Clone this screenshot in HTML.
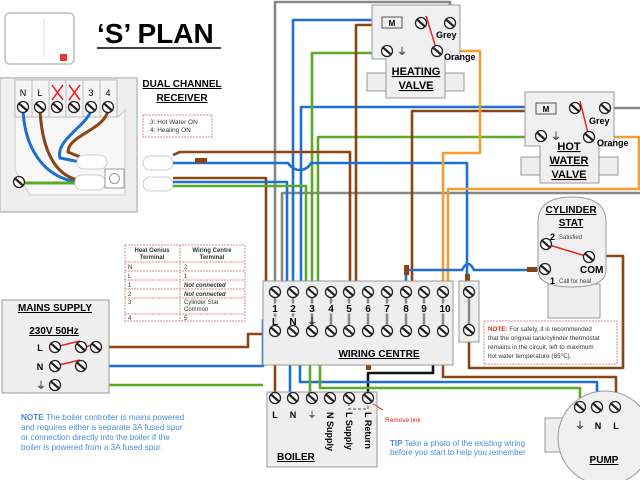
<!DOCTYPE html>
<html><head><meta charset="utf-8"><style>
body{margin:0;background:#fff}
svg{display:block}
text{font-family:"Liberation Sans",sans-serif}
.b{font-weight:bold}
</style></head><body>
<svg width="640" height="480" viewBox="0 0 640 480" xmlns="http://www.w3.org/2000/svg">
<defs>
<g id="sc"><circle r="5.5" fill="#fff" stroke="#222" stroke-width="1.3"/><line x1="-4" y1="-3.5" x2="4" y2="3.5" stroke="#222" stroke-width="2.2"/></g>
</defs>
<!-- thermostat -->
<rect x="5" y="13" width="69" height="51" rx="5" fill="#fff" stroke="#ccc" stroke-width="2"/>
<line x1="44" y1="18" x2="44" y2="58" stroke="#ddd"/>
<rect x="60" y="54" width="7" height="7" fill="#e33"/>
<!-- title -->
<text x="97" y="43" class="b" font-size="28">‘S’ PLAN</text>
<line x1="97" y1="48" x2="221" y2="48" stroke="#000" stroke-width="1.5"/>
<!-- receiver -->
<path d="M0 78 H137 V212 H0 Z" fill="#efefef" stroke="#ccc" stroke-width="2"/>
<path d="M15 117 H118 L125 110 V195 H30 L15 170 Z" fill="#f8f8f8" stroke="#ccc"/>
<g fill="#f4f4f4" stroke="#bbb">
<rect x="15" y="80" width="17" height="37"/><rect x="32" y="80" width="17" height="37"/><rect x="49" y="80" width="17" height="37"/><rect x="66" y="80" width="17" height="37"/><rect x="83" y="80" width="17" height="37"/><rect x="100" y="80" width="17" height="37"/>
</g>
<g font-size="9" text-anchor="middle"><text x="23" y="96">N</text><text x="40" y="96">L</text><text x="91" y="96">3</text><text x="108" y="96">4</text></g>
<g stroke="#e22" stroke-width="1.5"><line x1="52" y1="85" x2="63" y2="100"/><line x1="63" y1="85" x2="52" y2="100"/><line x1="69" y1="85" x2="80" y2="100"/><line x1="80" y1="85" x2="69" y2="100"/></g>
<g fill="none" stroke-width="3">
<path d="M23 110 C25 150 45 178 78 182" stroke="#1e6fd0"/>
<path d="M40 110 C42 150 55 175 78 180" stroke="#8b4513"/>
<path d="M25 183 H78" stroke="#5aaa28"/>
<path d="M91 110 C88 125 55 140 60 158 L80 162" stroke="#1e6fd0"/>
<path d="M108 110 C105 130 68 135 68 152 L80 157" stroke="#8b4513"/>
</g>
<rect x="77" y="155" width="30" height="14" rx="7" fill="#fff" stroke="#ccc"/>
<rect x="75" y="175" width="30" height="15" rx="7" fill="#fff" stroke="#ccc"/>
<rect x="105" y="169" width="19" height="19" fill="#fff" stroke="#999"/><circle cx="114.5" cy="178.5" r="5" fill="none" stroke="#999"/>
<g><use href="#sc" x="23" y="107"/><use href="#sc" x="40" y="107"/><use href="#sc" x="57" y="107"/><use href="#sc" x="74" y="107"/><use href="#sc" x="91" y="107"/><use href="#sc" x="108" y="107"/><use href="#sc" x="19" y="182"/></g>
<text x="182" y="87" class="b" font-size="10" text-anchor="middle" text-decoration="underline">DUAL CHANNEL</text>
<text x="182" y="101" class="b" font-size="10" text-anchor="middle" text-decoration="underline">RECEIVER</text>
<rect x="143" y="115" width="69" height="22" fill="none" stroke="#d88" stroke-dasharray="2,1"/>
<text x="150" y="124" font-size="6.5" fill="#333">3: Hot Water ON</text>
<text x="150" y="132" font-size="6.5" fill="#333">4: Healing ON</text>
<!-- cable ends -->
<rect x="143" y="156" width="30" height="14" rx="7" fill="#fff" stroke="#ccc"/>
<rect x="143" y="177" width="30" height="14" rx="7" fill="#fff" stroke="#ccc"/>

<!-- wires -->
<g fill="none" stroke-width="2.6" stroke-linejoin="round">
<path d="M275 292 V2 H450 V23" stroke="#888"/>
<path d="M605 108 H640" stroke="#888"/>
<path d="M282 285 V193 H640" stroke="#888"/>
<path d="M293 286 V20 H382" stroke="#1e6fd0"/>
<path d="M301 286 V107 H536" stroke="#1e6fd0"/>
<path d="M312 286 V53 H387" stroke="#5aaa28"/>
<path d="M318 286 V137 H541" stroke="#5aaa28"/>
<path d="M356 285 V25 H382" stroke="#8b4513"/>
<path d="M173 155 L180 152 H350 V287" stroke="#8b4513"/>
<path d="M412 285 V111 H536" stroke="#8b4513"/>
<path d="M173 163 H288 Q293 170 300 170 Q307 170 311 163 H467 V285" stroke="#1e6fd0"/>
<path d="M173 178 H266 V287" stroke="#8b4513"/>
<path d="M173 182 H287 V287" stroke="#1e6fd0"/>
<path d="M173 186 H306 V287" stroke="#5aaa28"/>
<path d="M437 51 H480 V153 H443 V287" stroke="#f0a030"/>
<path d="M589 137 H639 V189 H448 V287" stroke="#f0a030"/>
<path d="M406 287 V270 H462 Q468 258 474 270 H545" stroke="#1e6fd0"/>
<path d="M589 256 H623 V368 H469 V332" stroke="#8b4513"/>
<path d="M443 331 V377 H616 V408" stroke="#8b4513"/>
<path d="M443 331 L433 350 V373 H368 V398" stroke="#111"/>
<path d="M96 347 H248 V334 H275 V398" stroke="#8b4513"/>
<path d="M81 366 H263 V320 H285 L293 331" stroke="#1e6fd0"/>
<path d="M293 331 L300 345 V382 H597 V408" stroke="#1e6fd0"/>
<path d="M293 331 L290 345 V398" stroke="#1e6fd0"/>
<path d="M55 385 H263" stroke="#5aaa28"/>
<path d="M312 331 L320 345 V388 H580 V408" stroke="#5aaa28"/>
<path d="M312 331 L310 345 V398" stroke="#5aaa28"/>
</g>
<rect x="195" y="158" width="12" height="5" fill="#8b4513"/>
<rect x="404" y="265" width="5" height="10" fill="#8b4513"/>
<rect x="465" y="274" width="5" height="9" fill="#8b4513"/>
<rect x="527" y="267" width="10" height="5" fill="#8b4513"/>
<rect x="366" y="360" width="5" height="10" fill="#8b4513"/>
<rect x="431" y="350" width="5" height="10" fill="#8b4513"/>

<!-- heating valve -->
<path d="M372 5 H460 V59 H445 V98 H386 V59 H372 Z" fill="#f0f0f0" stroke="#999"/>
<rect x="367" y="73" width="19" height="18" fill="#eee" stroke="#999"/><rect x="445" y="73" width="19" height="18" fill="#eee" stroke="#999"/>
<rect x="382" y="17" width="20" height="11" fill="#eee" stroke="#555"/><text x="392" y="26" font-size="8" class="b" text-anchor="middle">M</text>
<line x1="426" y1="16" x2="437" y2="51" stroke="#e22" stroke-width="1.5"/>
<use href="#sc" x="421" y="23"/><use href="#sc" x="450" y="23"/><use href="#sc" x="437" y="51"/><use href="#sc" x="387" y="51"/>
<text x="397" y="55" font-size="10">⏚</text>
<text x="436" y="38" class="b" font-size="9">Grey</text>
<text x="444" y="60" class="b" font-size="9">Orange</text>
<text x="416" y="75" class="b" font-size="11" text-anchor="middle" text-decoration="underline">HEATING</text>
<text x="416" y="89" class="b" font-size="11" text-anchor="middle" text-decoration="underline">VALVE</text>
<!-- HW valve -->
<path d="M525 92 H614 V146 H599 V183 H540 V146 H525 Z" fill="#f0f0f0" stroke="#999"/>
<rect x="521" y="157" width="19" height="18" fill="#eee" stroke="#999"/><rect x="599" y="157" width="19" height="18" fill="#eee" stroke="#999"/>
<rect x="536" y="103" width="20" height="11" fill="#eee" stroke="#555"/><text x="546" y="112" font-size="8" class="b" text-anchor="middle">M</text>
<line x1="580" y1="101" x2="589" y2="137" stroke="#e22" stroke-width="1.5"/>
<use href="#sc" x="575" y="108"/><use href="#sc" x="605" y="108"/><use href="#sc" x="589" y="137"/><use href="#sc" x="541" y="136"/>
<text x="551" y="140" font-size="10">⏚</text>
<text x="589" y="124" class="b" font-size="9">Grey</text>
<text x="597" y="146" class="b" font-size="9">Orange</text>
<g class="b" font-size="11" text-anchor="middle" text-decoration="underline"><text x="569" y="150">HOT</text><text x="569" y="164">WATER</text><text x="569" y="178">VALVE</text></g>
<!-- cylinder stat -->
<rect x="548" y="284" width="52" height="34" fill="#eee" stroke="#999"/>
<path d="M538 222 Q538 197 572 197 Q606 197 606 222 V270 Q606 287 572 287 Q538 287 538 270 Z" fill="#f0f0f0" stroke="#999"/>
<text x="571" y="213" class="b" font-size="10" text-anchor="middle" text-decoration="underline">CYLINDER</text>
<text x="571" y="226" class="b" font-size="10" text-anchor="middle" text-decoration="underline">STAT</text>
<text x="550" y="240" class="b" font-size="9">2</text><text x="559" y="239" font-size="6" fill="#444">Satisfied</text>
<line x1="546" y1="244" x2="589" y2="257" stroke="#e22" stroke-width="1.5"/>
<use href="#sc" x="546" y="244"/><use href="#sc" x="589" y="257"/><use href="#sc" x="545" y="269"/>
<text x="580" y="273" class="b" font-size="10">COM</text>
<text x="550" y="284" class="b" font-size="9">1</text><text x="559" y="283" font-size="6" fill="#444">Call for heat</text>
<!-- wiring centre -->
<rect x="263" y="281" width="190" height="84" fill="#efefef" stroke="#999"/>
<g stroke="#888" stroke-width="2.5">
<line x1="275" y1="292" x2="275" y2="331"/><line x1="293" y1="292" x2="293" y2="331"/><line x1="312" y1="292" x2="312" y2="331"/><line x1="331" y1="292" x2="331" y2="331"/><line x1="349" y1="292" x2="349" y2="331"/><line x1="368" y1="292" x2="368" y2="331"/><line x1="387" y1="292" x2="387" y2="331"/><line x1="406" y1="292" x2="406" y2="331"/><line x1="424" y1="292" x2="424" y2="331"/><line x1="443" y1="292" x2="443" y2="331"/>
</g>
<g class="b" font-size="10" text-anchor="middle">
<text x="275" y="312" fill="#000" stroke="#efefef" stroke-width="3" paint-order="stroke">1</text><text x="293" y="312" stroke="#efefef" stroke-width="3" paint-order="stroke">2</text><text x="312" y="312" stroke="#efefef" stroke-width="3" paint-order="stroke">3</text><text x="331" y="312" stroke="#efefef" stroke-width="3" paint-order="stroke">4</text><text x="349" y="312" stroke="#efefef" stroke-width="3" paint-order="stroke">5</text><text x="368" y="312" stroke="#efefef" stroke-width="3" paint-order="stroke">6</text><text x="387" y="312" stroke="#efefef" stroke-width="3" paint-order="stroke">7</text><text x="406" y="312" stroke="#efefef" stroke-width="3" paint-order="stroke">8</text><text x="424" y="312" stroke="#efefef" stroke-width="3" paint-order="stroke">9</text><text x="445" y="312" stroke="#efefef" stroke-width="3" paint-order="stroke">10</text>
<text x="275" y="325" stroke="#efefef" stroke-width="3" paint-order="stroke">L</text><text x="293" y="325" stroke="#efefef" stroke-width="3" paint-order="stroke">N</text><text x="312" y="325" font-weight="normal">⏚</text>
</g>
<g><use href="#sc" x="275" y="292"/><use href="#sc" x="293" y="292"/><use href="#sc" x="312" y="292"/><use href="#sc" x="331" y="292"/><use href="#sc" x="349" y="292"/><use href="#sc" x="368" y="292"/><use href="#sc" x="387" y="292"/><use href="#sc" x="406" y="292"/><use href="#sc" x="424" y="292"/><use href="#sc" x="443" y="292"/>
<use href="#sc" x="275" y="331"/><use href="#sc" x="293" y="331"/><use href="#sc" x="312" y="331"/><use href="#sc" x="331" y="331"/><use href="#sc" x="349" y="331"/><use href="#sc" x="368" y="331"/><use href="#sc" x="387" y="331"/><use href="#sc" x="406" y="331"/><use href="#sc" x="424" y="331"/><use href="#sc" x="443" y="331"/></g>
<text x="379" y="357" class="b" font-size="10" text-anchor="middle" text-decoration="underline">WIRING CENTRE</text>
<rect x="459" y="281" width="20" height="61" fill="#efefef" stroke="#999"/>
<line x1="469" y1="292" x2="469" y2="330" stroke="#888" stroke-width="2.5"/>
<use href="#sc" x="469" y="292"/><use href="#sc" x="469" y="330"/>
<!-- note -->
<rect x="484" y="321" width="133" height="43" fill="#fff" stroke="#d88" stroke-dasharray="2,1"/>
<text font-size="6.3" fill="#333"><tspan x="488" y="331"><tspan fill="#d22" font-weight="bold">NOTE:</tspan> For safety, it is recommended</tspan><tspan x="488" y="340">that the original tank/cylinder thermostat</tspan><tspan x="488" y="349">remains in the circuit, left to maximum</tspan><tspan x="488" y="358">hot water temperature (65℃).</tspan></text>
<!-- boiler -->
<rect x="267" y="392" width="110" height="75" fill="#efefef" stroke="#999"/>
<path d="M349 403 V409 H368 V403" fill="none" stroke="#888" stroke-dasharray="3,2" stroke-width="1.5"/>
<g><use href="#sc" x="275" y="398"/><use href="#sc" x="293" y="398"/><use href="#sc" x="312" y="398"/><use href="#sc" x="330" y="398"/><use href="#sc" x="349" y="398"/><use href="#sc" x="368" y="398"/></g>
<g class="b" font-size="9" text-anchor="middle"><text x="275" y="418">L</text><text x="293" y="418">N</text><text x="312" y="418" font-weight="normal">⏚</text></g>
<g class="b" font-size="9"><text transform="translate(327,412) rotate(90)">N Supply</text><text transform="translate(346,412) rotate(90)">L Supply</text><text transform="translate(365,412) rotate(90)">L Return</text></g>
<text x="277" y="460" class="b" font-size="10" text-decoration="underline">BOILER</text>
<line x1="383" y1="410" x2="373" y2="404" stroke="#d22"/>
<text x="385" y="422" font-size="6.5" fill="#d22">Remove link</text>
<text font-size="8" fill="#4a8cd8"><tspan x="390" y="446"><tspan font-weight="bold">TIP</tspan> Take a photo of the existing wiring</tspan><tspan x="390" y="455">before you start to help you remember</tspan></text>
<!-- pump -->
<rect x="545" y="418" width="25" height="34" fill="#eee" stroke="#999"/>
<circle cx="605" cy="438" r="47" fill="#f0f0f0" stroke="#999"/>
<use href="#sc" x="580" y="407"/><use href="#sc" x="597" y="407"/><use href="#sc" x="615" y="407"/>
<text x="580" y="429" font-size="10" text-anchor="middle">⏚</text><text x="598" y="429" class="b" font-size="9" text-anchor="middle">N</text><text x="616" y="429" class="b" font-size="9" text-anchor="middle">L</text>
<text x="604" y="463" class="b" font-size="10" text-anchor="middle" text-decoration="underline">PUMP</text>
<!-- mains -->
<rect x="2" y="300" width="107" height="93" fill="#efefef" stroke="#999"/>
<text x="55" y="311" class="b" font-size="10" text-anchor="middle" text-decoration="underline">MAINS SUPPLY</text>
<text x="54" y="334" class="b" font-size="10" text-anchor="middle" text-decoration="underline">230V 50Hz</text>
<text x="40" y="351" class="b" font-size="9" text-anchor="middle">L</text><text x="40" y="370" class="b" font-size="9" text-anchor="middle">N</text><text x="41" y="389" font-size="10" text-anchor="middle">⏚</text>
<g stroke="#e22" stroke-width="1.5"><line x1="55" y1="347" x2="80" y2="341"/><line x1="84" y1="348" x2="95" y2="343"/><line x1="55" y1="366" x2="80" y2="360"/></g>
<use href="#sc" x="55" y="347"/><use href="#sc" x="81" y="347"/><use href="#sc" x="96" y="347"/><use href="#sc" x="55" y="366"/><use href="#sc" x="81" y="366"/><use href="#sc" x="55" y="385"/>
<!-- table -->
<g stroke="#d88" stroke-dasharray="2,1" fill="none">
<rect x="125" y="245" width="120" height="76"/>
<line x1="180" y1="245" x2="180" y2="321"/>
<line x1="125" y1="262" x2="245" y2="262"/><line x1="125" y1="271" x2="245" y2="271"/><line x1="125" y1="280" x2="245" y2="280"/><line x1="125" y1="289" x2="245" y2="289"/><line x1="125" y1="298" x2="245" y2="298"/><line x1="125" y1="314" x2="245" y2="314"/>
</g>
<g font-size="6" fill="#333">
<text x="152" y="252" class="b" text-anchor="middle">Heat Genius</text><text x="152" y="259" class="b" text-anchor="middle">Terminal</text>
<text x="212" y="252" class="b" text-anchor="middle">Wiring Centre</text><text x="212" y="259" class="b" text-anchor="middle">Terminal</text>
<text x="128" y="269">N</text><text x="184" y="269">2</text>
<text x="128" y="278">L</text><text x="184" y="278">1</text>
<text x="128" y="287">1</text><text x="184" y="287" font-weight="bold" font-style="italic">Not connected</text>
<text x="128" y="296">2</text><text x="184" y="296" font-weight="bold" font-style="italic">Not connected</text>
<text x="128" y="304">3</text><text x="184" y="304">Cylinder Stat</text><text x="184" y="311">Common</text>
<text x="128" y="320">4</text><text x="184" y="320">5</text>
</g>
<text font-size="8.2" fill="#4a8cd8"><tspan x="21" y="420"><tspan font-weight="bold">NOTE</tspan> The boiler controller is mains powered</tspan><tspan x="21" y="430">and requires either a separate 3A fused spur</tspan><tspan x="21" y="440">or connection directly into the boiler if the</tspan><tspan x="21" y="450">boiler is powered from a 3A fused spur.</tspan></text>
</svg>
</body></html>
